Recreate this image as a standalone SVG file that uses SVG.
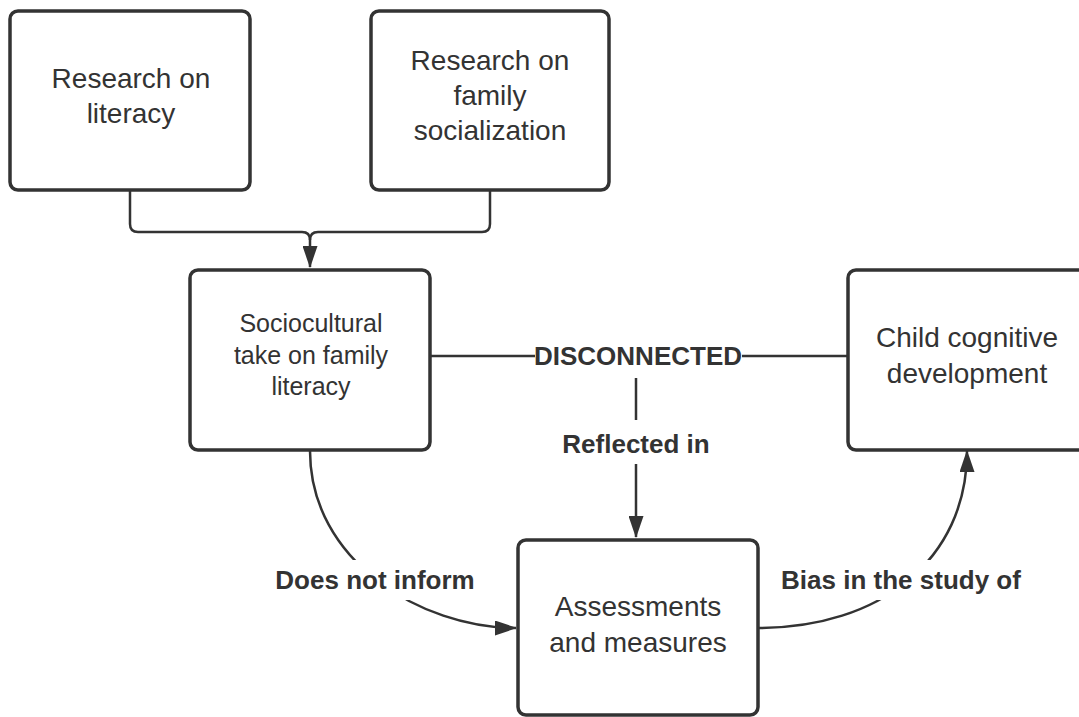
<svg xmlns="http://www.w3.org/2000/svg" width="1079" height="717" viewBox="0 0 1079 717">
<defs>
<marker id="arr" viewBox="0 0 22 15" refX="21" refY="7.5" markerWidth="22" markerHeight="15" markerUnits="userSpaceOnUse" orient="auto">
<path d="M0,0 L22,7.5 L0,15 Z" fill="#333"/>
</marker>
<style>
.box{fill:#fff;stroke:#333;stroke-width:3.5}
.t{font-family:"Liberation Sans",Arial,sans-serif;font-size:28px;fill:#333;text-anchor:middle}
.t2{font-family:"Liberation Sans",Arial,sans-serif;font-size:25px;fill:#333;text-anchor:middle}
.lbl{font-family:"Liberation Sans",Arial,sans-serif;font-size:26px;font-weight:bold;fill:#333;text-anchor:middle}
.c{fill:none;stroke:#333;stroke-width:2.5}
.bg{fill:#fff}
</style>
</defs>
<rect width="1079" height="717" fill="#fff"/>
<g id="connectors">
<path class="c" d="M130,191 V224 Q130,232 138,232 H302 Q310,232 310,240 V267" marker-end="url(#arr)"/>
<path class="c" d="M490,191 V224 Q490,232 482,232 H318 Q310,232 310,240"/>
<path class="c" d="M431,356 H847"/>
<path class="c" d="M636,360 V537" marker-end="url(#arr)"/>
<path class="c" d="M310,451 C310,560 420,628 516,628" marker-end="url(#arr)"/>
<path class="c" d="M758,628 C880,628 967,560 967,451" marker-end="url(#arr)"/>
<rect class="bg" x="535" y="340" width="207" height="38"/>
<text class="lbl" x="638" y="365">DISCONNECTED</text>
<rect class="bg" x="556" y="420" width="160" height="44"/>
<text class="lbl" x="636" y="453">Reflected in</text>
<rect class="bg" x="266" y="560" width="218" height="40"/>
<text class="lbl" x="375" y="589">Does not inform</text>
<rect class="bg" x="772" y="560" width="260" height="40"/>
<text class="lbl" x="901" y="589">Bias in the study of</text>
</g>
<g id="n1">
<rect class="box" x="10" y="11" width="240" height="179" rx="8"/>
<text class="t" x="131" y="88">Research on</text>
<text class="t" x="131" y="123">literacy</text>
</g>
<g id="n2">
<rect class="box" x="371" y="11" width="238" height="179" rx="8"/>
<text class="t" x="490" y="70">Research on</text>
<text class="t" x="490" y="105">family</text>
<text class="t" x="490" y="140">socialization</text>
</g>
<g id="n3">
<rect class="box" x="190" y="270" width="240" height="180" rx="8"/>
<text class="t2" x="311" y="332">Sociocultural</text>
<text class="t2" x="311" y="364">take on family</text>
<text class="t2" x="311" y="395">literacy</text>
</g>
<g id="n4">
<rect class="box" x="848" y="270" width="240" height="180" rx="8"/>
<text class="t" x="967" y="347">Child cognitive</text>
<text class="t" x="967" y="383">development</text>
</g>
<g id="n5">
<rect class="box" x="518" y="540" width="240" height="175" rx="8"/>
<text class="t" x="638" y="616">Assessments</text>
<text class="t" x="638" y="652">and measures</text>
</g>
</svg>
